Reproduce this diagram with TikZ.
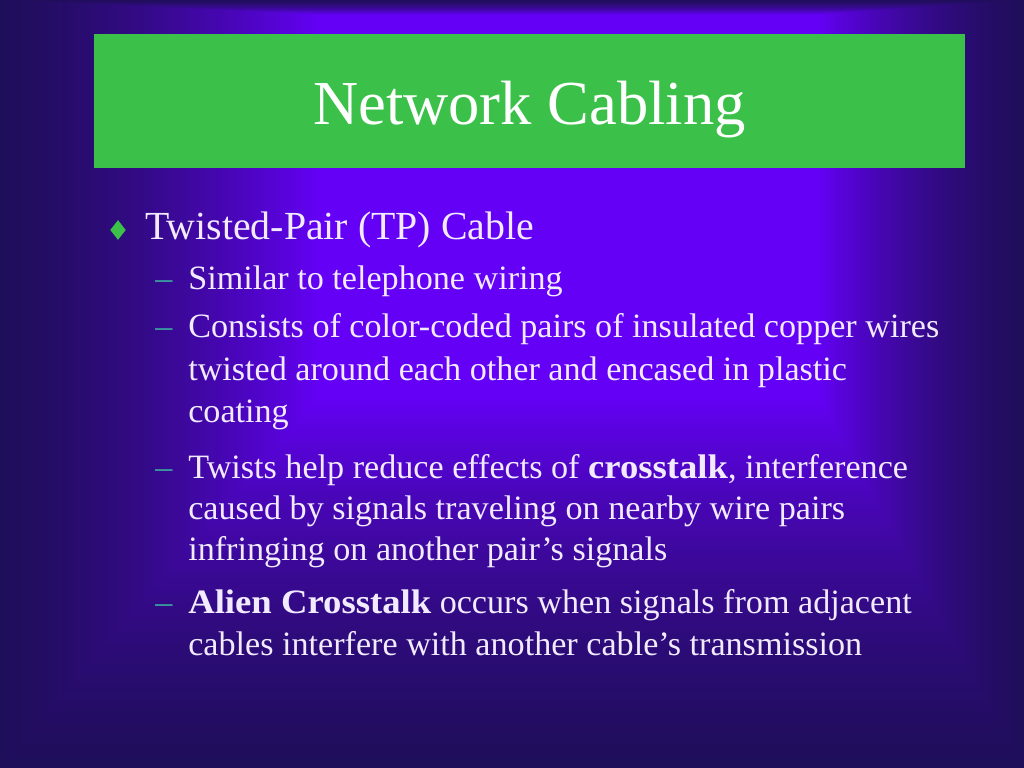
\documentclass[tikz,border=0pt]{standalone}
\usepackage{fontspec}
\setmainfont{Liberation Serif}[BoldFeatures={FakeStretch=1.075}]
\usetikzlibrary{shapes.geometric}
\definecolor{bgdark}{HTML}{1F0E5A}
\definecolor{bgbright}{HTML}{6400F5}
\definecolor{titlegreen}{HTML}{3BC14A}
\definecolor{txt}{HTML}{F2EAFF}
\definecolor{dashc}{HTML}{3AA6A0}
\begin{document}
\begin{tikzpicture}[x=0.703125pt,y=-0.703125pt,
  lvlone/.style={anchor=base west, inner sep=0pt, text=txt, font=\fontsize{28}{34}\selectfont},
  lvltwo/.style={anchor=base west, inner sep=0pt, text=txt, font=\fontsize{24}{29}\selectfont},
  dashmark/.style={anchor=base west, inner sep=0pt, text=dashc, font=\fontsize{24}{29}\selectfont},
  titletext/.style={anchor=base, inner sep=0pt, text=white, font=\fontsize{44}{53}\selectfont}]
\useasboundingbox (0,0) rectangle (1024,768);
% background: rectangular gradient
\foreach \k in {60,59,...,0}{
  \pgfmathsetmacro\tt{\k/60}
  \pgfmathsetmacro\p{100*(1.6*\tt-0.6*\tt*\tt)}
  \fill[bgdark!\p!bgbright] ({317-317*\tt},{15-15*\tt}) rectangle ({820+204*\tt},{400+368*\tt});
}
% title bar
\coordinate (tbl) at (94,34);
\coordinate (tbr) at (965,168);
\fill[titlegreen] (tbl) rectangle (tbr);
\node[titletext] (title) at (529.5,125) {Network Cabling};
% bullet
\node[diamond, fill=titlegreen, inner sep=0pt, minimum width=11pt, minimum height=14pt] (bullet) at (118,230) {};
\node[lvlone] (l1) at (145,240) {Twisted-Pair (TP) Cable};
% sub bullets
\node[dashmark] (d1) at (155,290) {–};
\node[lvltwo] (s1) at (188,290) {Similar to telephone wiring};
\node[dashmark] (d2) at (155,338) {–};
\node[lvltwo] (s2a) at (188,338) {Consists of color-coded pairs of insulated copper wires};
\node[lvltwo] (s2b) at (188,380) {twisted around each other and encased in plastic};
\node[lvltwo] (s2c) at (188,422) {coating};
\node[dashmark] (d3) at (155,478) {–};
\node[lvltwo] (s3a) at (188,478) {Twists help reduce effects of \textbf{crosstalk}, interference};
\node[lvltwo] (s3b) at (188,519) {caused by signals traveling on nearby wire pairs};
\node[lvltwo] (s3c) at (188,560) {infringing on another pair’s signals};
\node[dashmark] (d4) at (155,613) {–};
\node[lvltwo] (s4a) at (188,613) {\textbf{Alien Crosstalk} occurs when signals from adjacent};
\node[lvltwo] (s4b) at (188,655) {cables interfere with another cable’s transmission};
\end{tikzpicture}
\end{document}
